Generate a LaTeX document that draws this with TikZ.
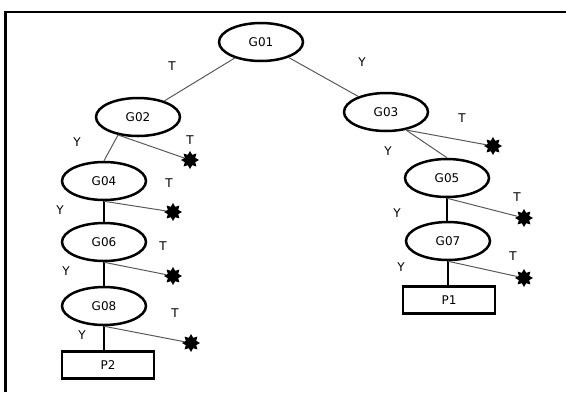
\documentclass[tikz,border=0pt]{standalone}
\usepackage{fontspec}
\setmainfont{DejaVu Sans}
\usetikzlibrary{shapes.geometric}

\begin{document}
\begin{tikzpicture}[x=1pt, y=-1pt,
  every node/.style={inner sep=1.5pt, font=\fontsize{12}{14}\selectfont},
  gnode/.style={draw, ellipse, line width=2.5pt, minimum width=84pt, minimum height=38pt},
  pbox/.style={draw, rectangle, line width=2.5pt, minimum width=92pt, minimum height=27pt},
  blot/.style={star, star points=8, star point ratio=1.6, fill=black, minimum size=18pt, inner sep=0pt},
  grayline/.style={draw=black!65, line width=1pt},
  yesline/.style={line width=1.4pt}]
  \useasboundingbox (0,0) rectangle (566,392);
  \draw[line width=2.5pt] (566,12) -- (5.5,12) -- (5.5,392);
  % tree nodes
  \node[gnode] (g01) at (261,42) {G01};
  \node[gnode] (g02) at (138,117) {G02};
  \node[gnode] (g03) at (386,112) {G03};
  \node[gnode] (g04) at (104,181) {G04};
  \node[gnode] (g05) at (447,178) {G05};
  \node[gnode] (g06) at (104,242) {G06};
  \node[gnode] (g07) at (448,241) {G07};
  \node[gnode] (g08) at (104,306) {G08};
  \node[pbox] (p1) at (449,300) {P1};
  \node[pbox] (p2) at (108,365) {P2};
  % dead ends
  \node[blot] (s02) at (190,160) {};
  \node[blot] (s03) at (493,146) {};
  \node[blot] (s04) at (173,212) {};
  \node[blot] (s05) at (524,218) {};
  \node[blot] (s06) at (173,276) {};
  \node[blot] (s07) at (524,278) {};
  \node[blot] (s08) at (191,343) {};
  % edges
  \draw[grayline] (g01) -- (g02);
  \draw[grayline] (g01) -- (g03);
  \draw[grayline] (g02.222) -- (g04.north);
  \draw[grayline] (g02.222) -- (s02);
  \draw[grayline] (g03.318) -- (g05.north);
  \draw[grayline] (g03.318) -- (s03);
  \draw[yesline] (g04.south) -- (g06.north);
  \draw[grayline] (g04.south) -- (s04);
  \draw[yesline] (g06.south) -- (g08.north);
  \draw[grayline] (g06.south) -- (s06);
  \draw[yesline] (g08.south) -- (g08.south |- p2.north);
  \draw[grayline] (g08.south) -- (s08);
  \draw[yesline] (g05.south) -- (g05.south |- g07.north);
  \draw[grayline] (g05.south) -- (s05);
  \draw[yesline] (g07.south) -- (g07.south |- p1.north);
  \draw[grayline] (g07.south) -- (s07);
  % branch labels
  \node (t01) at (172,66) {T};
  \node (y01) at (362,62) {Y};
  \node (y02) at (77,142) {Y};
  \node (t02) at (190,140) {T};
  \node (t03) at (462,118) {T};
  \node (y03) at (388,151) {Y};
  \node (t04) at (169,183) {T};
  \node (y04) at (60,210) {Y};
  \node (t05) at (517,197) {T};
  \node (y05) at (397,213) {Y};
  \node (t06) at (163,246) {T};
  \node (y06) at (66,271) {Y};
  \node (t07) at (513,256) {T};
  \node (y07) at (401,267) {Y};
  \node (t08) at (175,313) {T};
  \node (y08) at (82,335) {Y};
\end{tikzpicture}
\end{document}
